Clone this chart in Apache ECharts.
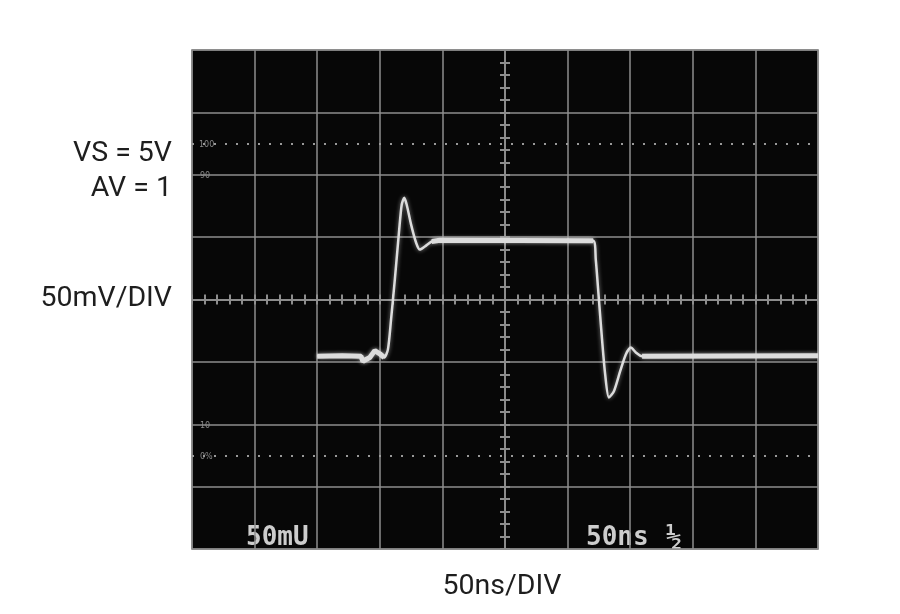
<!DOCTYPE html>
<html>
<head>
<meta charset="utf-8" />
<title>scope</title>
<style>
  html, body { margin: 0; padding: 0; background: #fff; }
  #chart { width: 900px; height: 614px; }
</style>
</head>
<body>
<div id="chart"></div>
<script src="https://cdn.jsdelivr.net/npm/echarts@6/dist/echarts.min.js"></script>
<script>
// trace in divisions, center of screen = (0,0)
var traceX = [-3.0, -2.6, -2.3, -2.27, -2.16, -2.08, -2.0, -1.93, -1.87, -1.82, -1.76, -1.69, -1.65, -1.61, -1.57, -1.5, -1.42, -1.36, -1.28, -1.17, -1.04, 1.41, 1.45, 1.5, 1.55, 1.6, 1.66, 1.74, 1.84, 1.93, 2.01, 2.09, 2.19, 5.0];
var traceY = [-0.91, -0.9, -0.91, -0.99, -0.93, -0.82, -0.87, -0.93, -0.8, -0.32, 0.32, 1.12, 1.52, 1.63, 1.52, 1.2, 0.91, 0.8, 0.85, 0.93, 0.95, 0.94, 0.64, 0, -0.64, -1.2, -1.57, -1.47, -1.15, -0.88, -0.77, -0.85, -0.91, -0.9];
// flat parts look thicker on the screen
var flatX = [[-3.0, -2.6, -2.3, -2.27, -2.16, -2.08, -2.0, -1.93], [-1.17, -1.04, 1.41], [2.19, 5.0]];
var flatY = [[-0.91, -0.9, -0.91, -0.99, -0.93, -0.82, -0.87, -0.93], [0.93, 0.95, 0.94], [-0.91, -0.9]];
var refLevels = [2.5, -2.5];

var gridCol = '#8e8e8e';
var traceCol = '#dcdcdc';

function pairs(xs, ys) {
	var out = [];
	for (var i = 0; i < xs.length; i++) out.push([xs[i], ys[i]]);
	return out;
}

var myChart = echarts.init(document.getElementById('chart'));

var series = [{
	type: 'line',
	data: pairs(traceX, traceY),
	smooth: 0.25,
	symbol: 'none',
	lineStyle: { color: traceCol, width: 2.5, shadowColor: 'rgba(255,255,255,0.5)', shadowBlur: 4 },
	markLine: {
		silent: true,
		symbol: 'none',
		label: { show: false },
		lineStyle: { color: '#9a9a9a', type: [2, 9], width: 2 },
		data: refLevels.map(function (v) { return { yAxis: v }; })
	},
	z: 5
}];
for (var k = 0; k < flatX.length; k++) {
	series.push({
		type: 'line',
		data: pairs(flatX[k], flatY[k]),
		symbol: 'none',
		lineStyle: { color: traceCol, width: 5, shadowColor: 'rgba(255,255,255,0.4)', shadowBlur: 4 },
		z: 6
	});
}

function xAx(pos, split) {
	return {
		type: 'value', min: -5, max: 5, interval: 1, position: pos,
		axisLine: { show: true, onZero: true, lineStyle: { color: gridCol, width: 1.5 } },
		axisTick: { show: true, length: 5, lineStyle: { color: gridCol, width: 2 } },
		minorTick: { show: true, splitNumber: 5, length: 5, lineStyle: { color: gridCol, width: 2 } },
		axisLabel: { show: false },
		splitLine: { show: split, lineStyle: { color: gridCol, width: 1.5 } }
	};
}
function yAx(pos, split) {
	return {
		type: 'value', min: -4, max: 4, interval: 1, position: pos,
		axisLine: { show: true, onZero: true, lineStyle: { color: gridCol, width: 1.5 } },
		axisTick: { show: true, length: 5, lineStyle: { color: gridCol, width: 2 } },
		minorTick: { show: true, splitNumber: 5, length: 5, lineStyle: { color: gridCol, width: 2 } },
		axisLabel: { show: false },
		splitLine: { show: split, lineStyle: { color: gridCol, width: 1.5 } }
	};
}

function txt(s, x, y, font, align) {
	return {
		type: 'text', x: x, y: y,
		style: Object.assign({ text: s, align: align || 'left', verticalAlign: 'middle', textAlign: align || 'left', textVerticalAlign: 'middle' }, font)
	};
}

var screenFont = { fill: '#cdcdcd', fontFamily: 'DejaVu Sans Mono', fontWeight: 'bold', fontSize: 26 };
var smallFont = { fill: '#8a8a8a', fontFamily: 'DejaVu Sans', fontSize: 8 };
var outsideFont = { fill: '#1e1e1e', fontFamily: 'Roboto', fontSize: 28.5 };

var options = {
	backgroundColor: '#ffffff',
	animation: false,
	grid: { left: 192, top: 50, width: 626, height: 499, show: true, backgroundColor: '#070707', borderColor: '#6e6e6e', borderWidth: 1.5 },
	xAxis: [xAx('bottom', true), xAx('top', false)],
	yAxis: [yAx('left', true), yAx('right', false)],
	series: series,
	graphic: [
		txt('VS = 5V', 172, 154, outsideFont, 'right'),
		txt('AV = 1', 172, 189, outsideFont, 'right'),
		txt('50mV/DIV', 172, 299, outsideFont, 'right'),
		txt('50ns/DIV', 502, 587, outsideFont, 'center'),
		txt('50mU', 246, 538, screenFont),
		txt('50ns', 586, 538, screenFont),
		txt('½', 666, 538, screenFont),
		txt('100', 199, 145, smallFont),
		txt('90', 200, 176, smallFont),
		txt('10', 200, 426, smallFont),
		txt('0%', 200, 457, smallFont)
	]
};

myChart.setOption(options);
</script>
</body>
</html>
